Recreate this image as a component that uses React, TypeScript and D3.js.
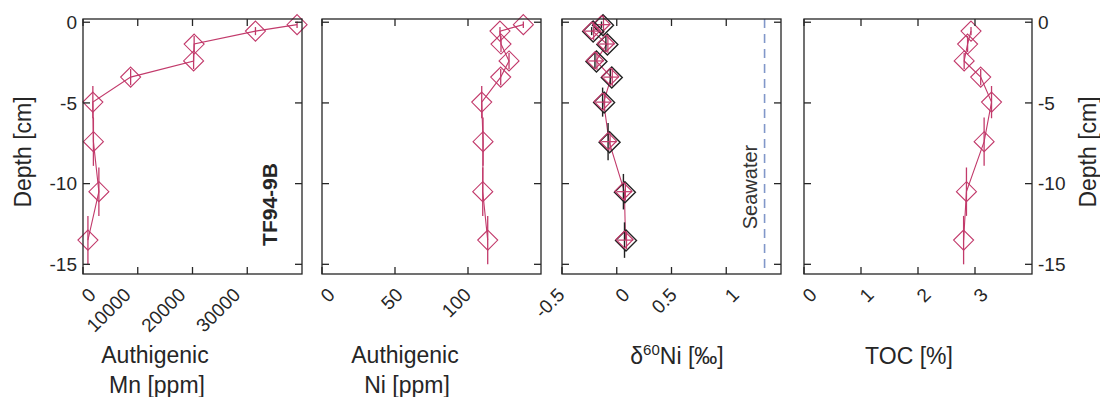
import React from 'react';
import * as d3 from 'd3';

// depth profile, core TF94-9B
const depths = [-0.15, -0.55, -1.35, -2.4, -3.4, -4.95, -7.4, -10.5, -13.5];
const depthErr = [0.2, 0.25, 0.5, 0.5, 0.5, 1, 1.5, 1.5, 1.5];

const mnValues = [39100, 31500, 20300, 20200, 8700, 1800, 1900, 2900, 900];
const niValues = [137.9, 121.9, 122.6, 128.1, 122.4, 109.4, 110.3, 110.1, 113.5];

const d60Values = [-0.13, -0.22, -0.09, -0.19, -0.05, -0.12, -0.07, 0.07, 0.08];
const d60Err = [0.07, 0.07, 0.07, 0.07, 0.07, 0.07, 0.07, 0.07, 0.07];
const d60DepthErr = [0.2, 0.25, 0.5, 0.5, 0.5, 0.9, 1.15, 1.1, 1.1];
const seawaterD60 = 1.35;

const tocDepths = [-0.55, -1.35, -2.4, -3.4, -4.95, -7.4, -10.5, -13.5];
const tocDepthErr = [0.25, 0.5, 0.5, 0.5, 1, 1.5, 1.5, 1.5];
const tocValues = [2.93, 2.87, 2.81, 3.1, 3.29, 3.16, 2.85, 2.8];

const depthTicks = [0, -5, -10, -15];
const mnTicks = [0, 10000, 20000, 30000];
const niTicks = [0, 50, 100];
const d60Ticks = [-0.5, 0, 0.5, 1];
const tocTicks = [0, 1, 2, 3];

const PINK = '#c23a6b';
const INK = '#262626';
const FONT = '"Liberation Sans", Arial, Helvetica, sans-serif';
const TOP = 19;
const BOTTOM = 274;
const TICK = 7;
const TICK_FONT = 19;

const y = d3.scaleLinear().domain([-15.6, 0.2]).range([BOTTOM, TOP]);

const charW = (s: string) =>
  s.split('').reduce((a, c) => a + (c === '.' ? 0.278 : c === '-' ? 0.333 : 0.556), 0) * TICK_FONT;

const diamond = (cx: number, cy: number, r: number) =>
  `M${cx},${cy - r}L${cx + r},${cy}L${cx},${cy + r}L${cx - r},${cy}Z`;

type PanelProps = {
  x0: number;
  x1: number;
  domain: [number, number];
  ticks: number[];
  children: (x: d3.ScaleLinear<number, number>) => React.ReactNode;
};

const Panel = ({ x0, x1, domain, ticks, children }: PanelProps) => {
  const x = d3.scaleLinear().domain(domain).range([x0, x1]);
  return (
    <g>
      {children(x)}
      <rect x={x0} y={TOP} width={x1 - x0} height={BOTTOM - TOP} fill="none" stroke={INK} strokeWidth={1.3} />
      {ticks.map((t) => (
        <g key={'x' + t}>
          <line x1={x(t)} x2={x(t)} y1={BOTTOM} y2={BOTTOM - TICK} stroke={INK} strokeWidth={1.3} />
          <line x1={x(t)} x2={x(t)} y1={TOP} y2={TOP + TICK} stroke={INK} strokeWidth={1.3} />
          <text
            transform={`translate(${x(t) + 19 - 0.47 * charW(String(t))},296) rotate(-45)`}
            textAnchor="end"
            fontSize={TICK_FONT}
            fill={INK}
          >
            {String(t)}
          </text>
        </g>
      ))}
      {depthTicks.map((t) => (
        <g key={'y' + t}>
          <line x1={x0} x2={x0 + TICK} y1={y(t)} y2={y(t)} stroke={INK} strokeWidth={1.3} />
          <line x1={x1} x2={x1 - TICK} y1={y(t)} y2={y(t)} stroke={INK} strokeWidth={1.3} />
        </g>
      ))}
    </g>
  );
};

const Profile = ({
  x,
  values,
  ds,
  errs,
}: {
  x: d3.ScaleLinear<number, number>;
  values: number[];
  ds: number[];
  errs: number[];
}) => {
  const line = d3
    .line<number>()
    .x((v) => x(v))
    .y((_, i) => y(ds[i]));
  return (
    <g>
      <path d={line(values) || ''} fill="none" stroke={PINK} strokeWidth={1.1} />
      {values.map((v, i) => (
        <g key={i}>
          <line x1={x(v)} x2={x(v)} y1={y(ds[i] + errs[i])} y2={y(ds[i] - errs[i])} stroke={PINK} strokeWidth={1.3} />
          <path d={diamond(x(v), y(ds[i]), 10)} fill="none" stroke={PINK} strokeWidth={1.1} />
        </g>
      ))}
    </g>
  );
};

const App = () => {
  return (
    <svg
      width={1100}
      height={397}
      style={{ position: 'absolute', left: 0, top: 0, display: 'block', background: '#fff' }}
      fontFamily={FONT}
    >
      <rect width={1100} height={397} fill="#fff" />

      <Panel x0={83} x1={302} domain={[0, 40000]} ticks={mnTicks}>
        {(x) => (
          <g>
            <Profile x={x} values={mnValues} ds={depths} errs={depthErr} />
            <text
              transform="translate(277,204.5) rotate(-90)"
              textAnchor="middle"
              fontWeight="bold"
              fontSize={21}
              fill={INK}
            >
              TF94-9B
            </text>
          </g>
        )}
      </Panel>

      <Panel x0={322} x1={541} domain={[0, 150]} ticks={niTicks}>
        {(x) => <Profile x={x} values={niValues} ds={depths} errs={depthErr} />}
      </Panel>

      <Panel x0={562} x1={781} domain={[-0.5, 1.5]} ticks={d60Ticks}>
        {(x) => {
          const line = d3
            .line<number>()
            .x((v) => x(v))
            .y((_, i) => y(depths[i]));
          return (
            <g>
              <line
                x1={x(seawaterD60)}
                x2={x(seawaterD60)}
                y1={TOP}
                y2={BOTTOM}
                stroke="#8197c9"
                strokeWidth={1.6}
                strokeDasharray="9,6"
              />
              <text
                transform={`translate(${x(seawaterD60) - 8},187) rotate(-90)`}
                textAnchor="middle"
                fontSize={20}
                fill="#333"
              >
                Seawater
              </text>
              <path d={line(d60Values) || ''} fill="none" stroke={PINK} strokeWidth={1.1} />
              {d60Values.map((v, i) => {
                const cx = x(v);
                const cy = y(depths[i]);
                return (
                  <g key={i}>
                    <line
                      x1={cx - 1}
                      x2={cx - 1}
                      y1={y(depths[i] + d60DepthErr[i])}
                      y2={y(depths[i] - d60DepthErr[i])}
                      stroke="#222"
                      strokeWidth={1.4}
                    />
                    <path d={diamond(cx + 0.5, cy + 0.5, 10.5)} fill="none" stroke="#222" strokeWidth={1.4} />
                    <path d={diamond(cx - 1, cy - 0.5, 8.5)} fill="none" stroke={PINK} strokeWidth={1.2} />
                    <line x1={x(v - d60Err[i])} x2={x(v + d60Err[i])} y1={cy} y2={cy} stroke={PINK} strokeWidth={1.2} />
                    <line x1={cx + 1} x2={cx + 1} y1={cy - 9} y2={cy + 9} stroke={PINK} strokeWidth={1.2} />
                  </g>
                );
              })}
            </g>
          );
        }}
      </Panel>

      <Panel x0={804} x1={1032} domain={[0, 4]} ticks={tocTicks}>
        {(x) => <Profile x={x} values={tocValues} ds={tocDepths} errs={tocDepthErr} />}
      </Panel>

      {/* depth axis labels, left and right */}
      {depthTicks.map((t) => (
        <g key={t}>
          <text x={77} y={y(t)} dy="0.35em" textAnchor="end" fontSize={TICK_FONT} fill={INK}>
            {String(t)}
          </text>
          <text x={1038} y={y(t)} dy="0.35em" textAnchor="start" fontSize={TICK_FONT} fill={INK}>
            {String(t)}
          </text>
        </g>
      ))}
      <text transform="translate(31,152) rotate(-90)" textAnchor="middle" fontSize={23} fill={INK}>
        Depth [cm]
      </text>
      <text transform="translate(1096,152) rotate(-90)" textAnchor="middle" fontSize={23} fill={INK}>
        Depth [cm]
      </text>

      {/* x axis titles */}
      <text x={155} y={363} textAnchor="middle" fontSize={23} fill={INK}>
        Authigenic
      </text>
      <text x={157} y={393} textAnchor="middle" fontSize={23} fill={INK}>
        Mn [ppm]
      </text>
      <text x={405} y={363} textAnchor="middle" fontSize={23} fill={INK}>
        Authigenic
      </text>
      <text x={407} y={393} textAnchor="middle" fontSize={23} fill={INK}>
        Ni [ppm]
      </text>
      <text x={677} y={364} textAnchor="middle" fontSize={23} fill={INK}>
        δ
        <tspan fontSize={15} dy={-9}>
          60
        </tspan>
        <tspan dy={9}>Ni [‰]</tspan>
      </text>
      <text x={909} y={364} textAnchor="middle" fontSize={23} fill={INK}>
        TOC [%]
      </text>
    </svg>
  );
};

export default App;
